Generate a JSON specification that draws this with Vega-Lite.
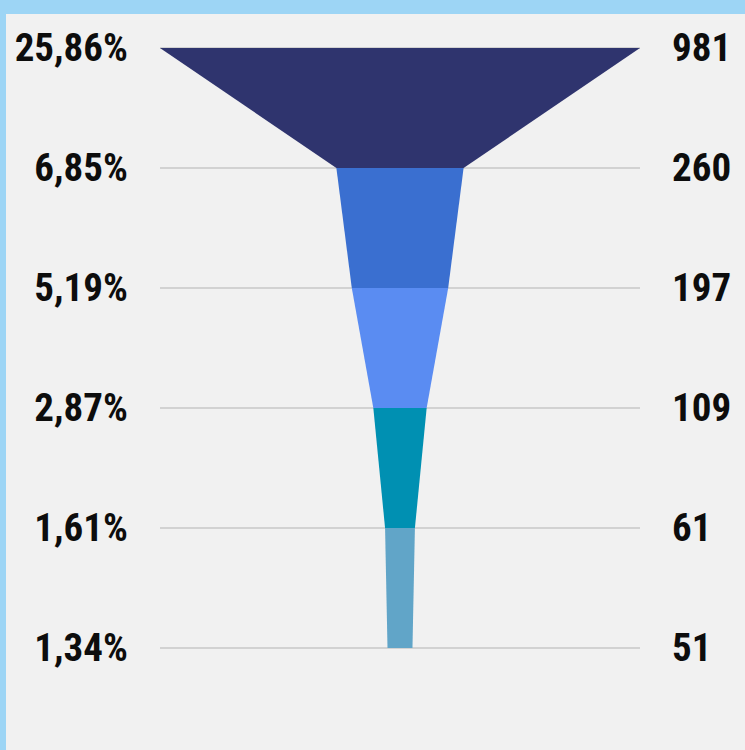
{
  "$schema": "https://vega.github.io/schema/vega-lite/v6.json",
  "width": 739,
  "height": 736,
  "autosize": {"type": "none"},
  "padding": {"left": 6, "top": 14, "right": 0, "bottom": 0},
  "background": "#9dd5f5",
  "config": {"view": {"fill": "#f1f1f1", "stroke": null}},
  "datasets": {
    "stages": [
      {"level": 0, "value": 981, "pct": "25,86%"},
      {"level": 1, "value": 260, "pct": "6,85%"},
      {"level": 2, "value": 197, "pct": "5,19%"},
      {"level": 3, "value": 109, "pct": "2,87%"},
      {"level": 4, "value": 61, "pct": "1,61%"},
      {"level": 5, "value": 51, "pct": "1,34%"}
    ],
    "segs": [
      {"seg": "s1", "level": 0, "value": 981},
      {"seg": "s1", "level": 1, "value": 260},
      {"seg": "s2", "level": 1, "value": 260},
      {"seg": "s2", "level": 2, "value": 197},
      {"seg": "s3", "level": 2, "value": 197},
      {"seg": "s3", "level": 3, "value": 109},
      {"seg": "s4", "level": 3, "value": 109},
      {"seg": "s4", "level": 4, "value": 61},
      {"seg": "s5", "level": 4, "value": 61},
      {"seg": "s5", "level": 5, "value": 51}
    ]
  },
  "layer": [
    {
      "data": {"name": "stages"},
      "mark": {"type": "rule", "color": "#d2d2d2", "strokeWidth": 2},
      "encoding": {
        "y": {"field": "level", "type": "quantitative", "scale": {"domain": [-0.2833, 5.85], "reverse": true, "nice": false, "zero": false}, "axis": null},
        "x": {"datum": -490.5, "type": "quantitative", "scale": {"domain": [-805.2, 705.1], "nice": false, "zero": false}, "axis": null},
        "x2": {"datum": 490.5}
      }
    },
    {
      "data": {"name": "segs"},
      "transform": [
        {"calculate": "-datum.value / 2", "as": "lo"},
        {"calculate": "datum.value / 2", "as": "hi"}
      ],
      "mark": {"type": "area", "orient": "horizontal", "opacity": 1},
      "encoding": {
        "y": {"field": "level", "type": "quantitative"},
        "x": {"field": "lo", "type": "quantitative"},
        "x2": {"field": "hi"},
        "color": {"field": "seg", "type": "nominal", "legend": null,
          "scale": {"domain": ["s1", "s2", "s3", "s4", "s5"], "range": ["#2f346e", "#3a6fd0", "#5a8cf2", "#0090b2", "#61a5c8"]}}
      }
    },
    {
      "data": {"name": "stages"},
      "mark": {"type": "text", "align": "right", "baseline": "middle", "font": "Roboto Condensed, DejaVu Sans Condensed, sans-serif", "fontWeight": "bold", "fontSize": 39, "color": "#0d0d0d", "dy": 1},
      "encoding": {
        "y": {"field": "level", "type": "quantitative"},
        "x": {"datum": -556, "type": "quantitative"},
        "text": {"field": "pct"}
      }
    },
    {
      "data": {"name": "stages"},
      "mark": {"type": "text", "align": "left", "baseline": "middle", "font": "Roboto Condensed, DejaVu Sans Condensed, sans-serif", "fontWeight": "bold", "fontSize": 39, "color": "#0d0d0d", "dy": 1},
      "encoding": {
        "y": {"field": "level", "type": "quantitative"},
        "x": {"datum": 556, "type": "quantitative"},
        "text": {"field": "value", "type": "quantitative"}
      }
    }
  ]
}
